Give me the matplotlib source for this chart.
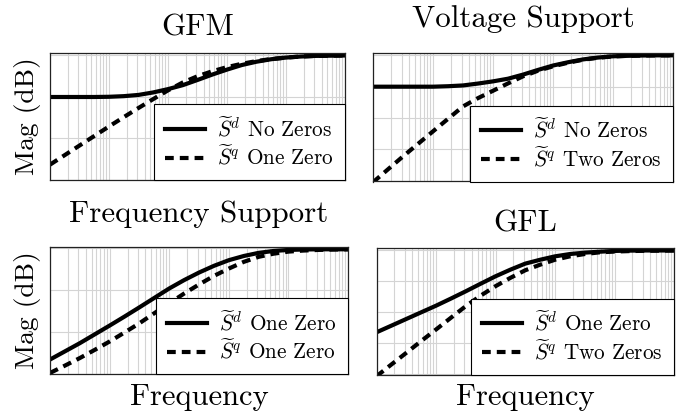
import matplotlib
matplotlib.use("Agg")
import matplotlib.pyplot as plt
from matplotlib.ticker import LogLocator, NullFormatter

plt.rcParams['font.family'] = 'serif'
plt.rcParams['font.serif'] = ['cmr10']
plt.rcParams['mathtext.fontset'] = 'cm'
plt.rcParams['axes.formatter.use_mathtext'] = True

# ---------------- data ----------------
freq = [0.1, 0.178, 0.316, 0.562, 1, 1.78, 3.16, 5.62, 10, 17.8, 31.6,
        56.2, 100, 178, 316, 562, 1000, 1778, 3162, 5623, 10000]

titles = ["GFM", "Voltage Support", "Frequency Support", "GFL"]

gfm_d = [-20, -20, -20, -20, -19.9, -19.6, -19, -17.8, -16.2, -14.3, -11.8,
         -9.2, -6.8, -4.6, -3.0, -1.8, -1.0, -0.5, -0.2, -0.1, 0]
gfm_q = [-52.6, -48, -43.4, -38.8, -34.2, -29.7, -25.3, -21, -16.8, -13, -10,
         -7.6, -5.6, -4, -2.7, -1.7, -1.0, -0.5, -0.2, -0.1, 0]

vs_d = [-20, -20, -20, -20, -20, -19.7, -19.2, -18.0, -16.6, -14.9, -12.3,
        -9.3, -6.5, -4.4, -2.6, -1.4, -0.6, -0.3, -0.1, 0, 0]
vs_q = [-81, -72.7, -64.5, -56.5, -48.5, -40.5, -32.6, -27.3, -22.6, -17.9, -13.4,
        -9.8, -7, -4.7, -2.8, -1.5, -0.7, -0.3, -0.1, 0, 0]

fs_d = [-53.1, -49.2, -45.3, -41.1, -36.9, -32.6, -28.2, -23.7, -19.2, -15.2, -11.6,
        -8.4, -5.7, -3.7, -2.2, -1.3, -0.8, -0.6, -0.5, -0.5, -0.5]
fs_q = [-59.5, -56, -52.4, -48.5, -44.5, -40.2, -35.8, -31, -26.3, -21.6, -17.3,
        -13.2, -9.7, -6.5, -4.1, -2.6, -1.6, -1.1, -0.8, -0.6, -0.5]

gfl_d = [-52.9, -48.6, -44.3, -40, -35.7, -31.1, -26.4, -21.5, -16.7, -12.4, -8.5,
         -6.0, -3.8, -2.3, -1.4, -0.8, -0.3, -0.1, 0, 0, 0]
gfl_q = [-81.3, -73.7, -66.2, -58.6, -51.1, -43.5, -36, -29.2, -23.1, -17.7, -12.8,
         -9.2, -6, -3.8, -2.3, -1.2, -0.7, -0.4, -0.2, -0.1, 0]

labels_d = [r"$\widetilde{S}^d$ No Zeros", r"$\widetilde{S}^d$ No Zeros",
            r"$\widetilde{S}^d$ One Zero", r"$\widetilde{S}^d$ One Zero"]
labels_q = [r"$\widetilde{S}^q$ One Zero", r"$\widetilde{S}^q$ Two Zeros",
            r"$\widetilde{S}^q$ One Zero", r"$\widetilde{S}^q$ Two Zeros"]

ylims = [(-60, 1.2), (-80.5, 1.5), (-59.5, 0.6), (-80.3, 1.6)]
yticks = [[-60, -40, -20, 0], [-80, -60, -40, -20, 0],
          [-60, -40, -20, 0], [-80, -60, -40, -20, 0]]

series_d = [gfm_d, vs_d, fs_d, gfl_d]
series_q = [gfm_q, vs_q, fs_q, gfl_q]

# ---------------- layout ----------------
W, H = 689, 417
fig = plt.figure(figsize=(W / 100, H / 100), dpi=100)

# (left, top, right, bottom) in pixels
boxes = [(50, 53, 345, 180), (373, 53, 673, 181.5),
         (50, 247, 348, 374), (376.5, 248, 674, 374.7)]
title_pos = [(197.5, 35), (523, 27), (199, 221.7), (525, 231.7)]

for i in range(4):
    l, t, r, b = boxes[i]
    ax = fig.add_axes([l / W, 1 - b / H, (r - l) / W, (b - t) / H])
    ax.set_xscale('log')
    ax.set_xlim(0.1, 1e4)
    ax.set_ylim(*ylims[i])
    ax.set_yticks(yticks[i])
    ax.xaxis.set_major_locator(LogLocator(base=10, numticks=20))
    ax.xaxis.set_minor_locator(LogLocator(base=10, subs=range(2, 10), numticks=50))
    ax.xaxis.set_minor_formatter(NullFormatter())
    ax.tick_params(which='both', length=0, labelbottom=False, labelleft=False)
    ax.grid(which='both', axis='x', color='#d4d4d4', lw=0.8)
    ax.grid(which='major', axis='y', color='#d4d4d4', lw=0.8)
    ax.set_axisbelow(True)
    for s in ax.spines.values():
        s.set_linewidth(0.9)
        s.set_color('#222222')

    ax.plot(freq, series_d[i], color='black', lw=3.0, solid_joinstyle='round',
            label=labels_d[i])
    ax.plot(freq, series_q[i], color='black', lw=3.0, linestyle=(0, (2.1, 1.45)),
            label=labels_q[i])

    leg = ax.legend(loc='lower right', borderaxespad=0, fancybox=False,
                    edgecolor='black', framealpha=1, fontsize=15.3,
                    handlelength=1.86, handletextpad=0.6, labelspacing=0.2,
                    borderpad=0.52)
    leg.get_frame().set_linewidth(0.8)

    tx, ty = title_pos[i]
    fig.text(tx / W, 1 - ty / H, titles[i], ha='center', va='baseline', fontsize=22.3)

# y labels
for yc in [(53 + 180) / 2, (247 + 374) / 2]:
    fig.text(27.5 / W, 1 - yc / H, "Mag (dB)", rotation=90, ha='center',
             va='center', fontsize=19.8)

# x labels
for xc in [(50 + 348) / 2, (376.5 + 674) / 2]:
    fig.text(xc / W, 1 - 405 / H, "Frequency", ha='center', va='baseline',
             fontsize=22)

fig.savefig("out.png", dpi=100)
